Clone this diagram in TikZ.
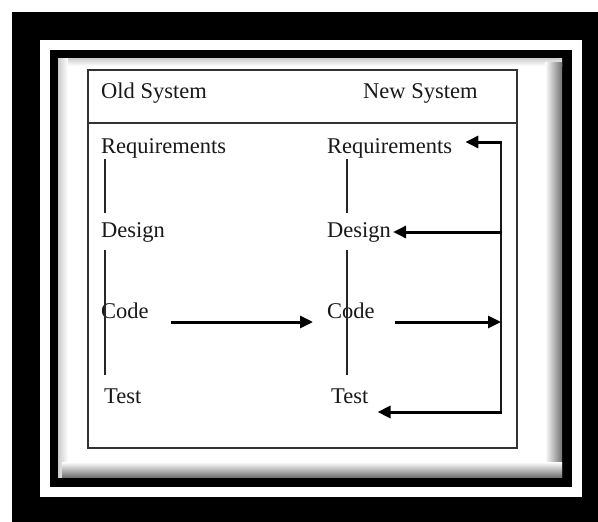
\documentclass[tikz,border=0pt]{standalone}
\usepackage{fontspec}
\setmainfont{Liberation Serif}
\usetikzlibrary{arrows.meta,calc}

\tikzset{
  label/.style={inner sep=0pt, anchor=base west, text=black!90,
                font=\fontsize{22.5}{27}\selectfont},
  colline/.style={draw=black!85, line width=1.6pt},
  busline/.style={draw=black!90, line width=2.2pt},
  arr/.style={draw=black, line width=3pt,
              -{Triangle[length=13pt,width=12pt]}},
  tableframe/.style={draw=black!80, line width=1.6pt}
}

\begin{document}
\begin{tikzpicture}[x=1pt,y=-1pt]
  \useasboundingbox (0,0) rectangle (598,522);

  % double picture frame
  \fill[white] (0,0) rectangle (598,522);
  \fill[black] (12,12) rectangle (598,522);
  \fill[white] (40,40) rectangle (582,497);
  \fill[black] (50,50) rectangle (572,487);
  \fill[white] (58,58) rectangle (562,477);

  % soft bevel inside the inner frame
  \shade[top color=black!20, bottom color=white] (58,58) rectangle (562,66);
  \shade[left color=black!20, right color=white] (58,58) rectangle (68,477);
  \shade[left color=white, right color=black!55] (545,62) rectangle (562,477);
  \shade[top color=white, bottom color=black!55] (62,462) rectangle (562,477);

  % table with header row
  \draw[tableframe] (88,70) rectangle (517,448);
  \draw[tableframe] (88,123) -- (517,123);

  \node[label] (hdrOld) at (101,98) {Old System};
  \node[label] (hdrNew) at (363,98) {New System};

  % old system column
  \node[label] (reqL)  at (101,153) {Requirements};
  \node[label] (desL)  at (101,237) {Design};
  \node[label] (codeL) at (101,318) {Code};
  \node[label] (testL) at (104,403) {Test};

  % new system column
  \node[label] (reqR)  at (327,153) {Requirements};
  \node[label] (desR)  at (327,237) {Design};
  \node[label] (codeR) at (327,318) {Code};
  \node[label] (testR) at (331,403) {Test};

  % phase links within each column
  \draw[colline] ($(reqL.base west)+(4,6)$) -- ($(desL.base west)+(4,-24)$);
  \draw[colline] ($(desL.base west)+(4,13)$) -- ($(testL.base west)+(1,-28)$);
  \draw[colline] ($(reqR.base west)+(20,6)$) -- ($(desR.base west)+(20,-24)$);
  \draw[colline] ($(desR.base west)+(20,13)$) -- ($(testR.base west)+(16,-28)$);

  % feedback bus on the right
  \coordinate (busT) at (501,142);
  \coordinate (busB) at (501,412);
  \draw[busline] (busT) -- (busB);

  % old code carried into the new system
  \draw[arr] ($(codeL.base east)+(22,4)$) -- ($(codeR.base west)+(-14,4)$);
  % new code fed to the bus
  \draw[arr] ($(codeR.base east)+(20,4)$) -- ($(busT |- codeR.base)+(0,4)$);
  % bus back to requirements, design and test
  \draw[arr] ($(busT)+(1,0)$) -- ($(reqR.base east |- busT)+(13,0)$);
  \draw[arr] ($(busT |- desR.base)+(1,-5)$) -- ($(desR.base east)+(2,-5)$);
  \draw[arr] ($(busB)+(1,0)$) -- ($(testR.base east |- busB)+(9,0)$);
\end{tikzpicture}
\end{document}
